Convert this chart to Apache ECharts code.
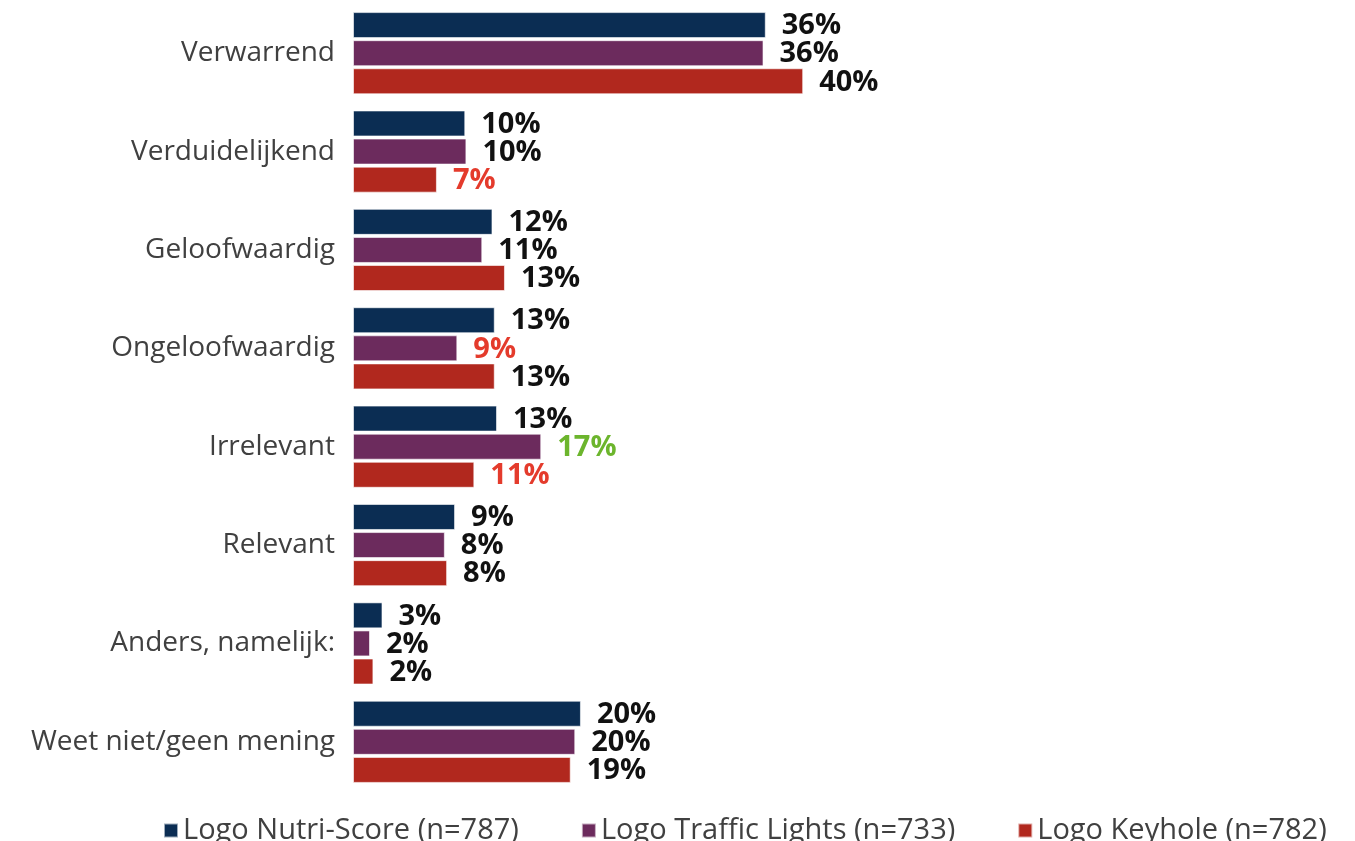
<!DOCTYPE html>
<html><head><meta charset="utf-8">
<script src="https://cdn.jsdelivr.net/npm/echarts@6/dist/echarts.min.js"></script>
<style>html,body{margin:0;padding:0;background:#fff}#c{width:1355px;height:841px}</style>
</head><body><div id="c"></div>
<script>
const categories = ["Verwarrend","Verduidelijkend","Geloofwaardig","Ongeloofwaardig","Irrelevant","Relevant","Anders, namelijk:","Weet niet/geen mening"];
const seriesNames = ["Logo Nutri-Score (n=787)","Logo Traffic Lights (n=733)","Logo Keyhole (n=782)"];
const nutriScore = [36.4, 9.9, 12.3, 12.5, 12.7, 9.0, 2.6, 20.1];
const trafficLights = [36.2, 10.0, 11.4, 9.2, 16.6, 8.1, 1.5, 19.6];
const keyhole = [39.7, 7.4, 13.4, 12.5, 10.7, 8.3, 1.8, 19.2];
// significance markers: 'low' = significantly lower, 'high' = significantly higher
const nutriScoreSig = ["","","","","","","",""];
const trafficLightsSig = ["","","","low","high","","",""];
const keyholeSig = ["","low","","","low","","",""];

const sigColor = {"": "#111111", low: "#e43b2c", high: "#6cb52d"};
const barColors = ["#0b2d53", "#6c2b5d", "#b1281e"];
const fontFam = "'Open Sans', 'DejaVu Sans', sans-serif";

function mk(name, vals, sig, color) {
  return {
    name: name, type: 'bar',
    barWidth: 26, barGap: '8%',
    itemStyle: {color: color, borderColor: 'rgba(255,255,255,0.6)', borderWidth: 1},
    data: vals.map((v, i) => ({
      value: v,
      label: {color: sigColor[sig[i]]}
    })),
    label: {
      show: true, position: 'right', distance: 16, offset: [0, 1],
      fontFamily: fontFam, fontWeight: 'bold', fontSize: 29,
      formatter: p => Math.round(p.value) + '%'
    }
  };
}

const chart = echarts.init(document.getElementById('c'), null, {renderer: 'canvas'});
chart.setOption({
  animation: false,
  backgroundColor: '#ffffff',
  grid: {left: 353, right: 435, top: 4, bottom: 50},
  legend: {
    bottom: -9, left: 158,
    icon: 'rect', itemWidth: 14, itemHeight: 14, itemGap: 62,
    textStyle: {fontFamily: fontFam, fontSize: 29, color: '#404040'},
    data: seriesNames
  },
  xAxis: {type: 'value', min: 0, max: 50, show: false},
  yAxis: {
    type: 'category', data: categories, inverse: true,
    axisLine: {show: false}, axisTick: {show: false},
    axisLabel: {fontFamily: fontFam, fontSize: 28, color: '#404040', margin: 18}
  },
  series: [
    mk(seriesNames[0], nutriScore, nutriScoreSig, barColors[0]),
    mk(seriesNames[1], trafficLights, trafficLightsSig, barColors[1]),
    mk(seriesNames[2], keyhole, keyholeSig, barColors[2])
  ]
});
</script></body></html>
